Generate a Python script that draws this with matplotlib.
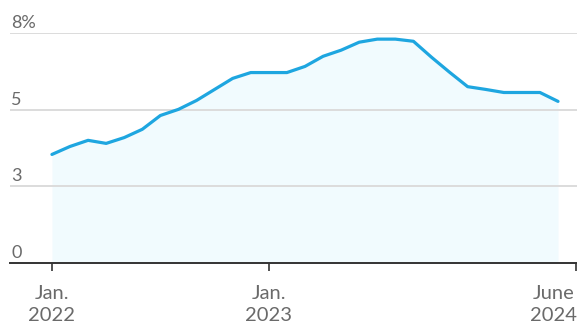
import matplotlib
matplotlib.use("Agg")
import matplotlib.pyplot as plt
import numpy as np

# Monthly values, Jan. 2022 .. May 2024 (percent)
months = list(range(29))
values = [3.54, 3.80, 4.00, 3.90, 4.09, 4.36, 4.81, 5.01, 5.30, 5.66,
          6.02, 6.21, 6.21, 6.21, 6.41, 6.74, 6.94, 7.20, 7.30, 7.30,
          7.23, 6.71, 6.22, 5.75, 5.66, 5.56, 5.56, 5.56, 5.27]

y_ticks = [0, 2.5, 5, 7.5]
y_labels = ["0", "3", "5", "8%"]
x_ticks = [0, 12, 29]
x_labels = ["Jan.\n2022", "Jan.\n2023", "June\n2024"]

plt.rcParams['font.family'] = ['Lato', 'DejaVu Sans']

fig = plt.figure(figsize=(5.77, 3.36), dpi=100)
ax = fig.add_axes([10/577, 1-263/336, 1-10/577, (263-33)/336])

ax.set_xlim(-2.32, 29.05)
ax.set_ylim(0, 7.5)

ax.fill_between(months, values, 0, color='#f1fbfe', lw=0, zorder=1)
for yv in y_ticks[1:]:
    ax.axhline(yv, color='#dcdcdc', lw=1.4, zorder=2)
ax.plot(months, values, color='#1ea6e0', lw=2.3, zorder=3,
        solid_joinstyle='round', solid_capstyle='round', clip_on=False)

for sp in ['top', 'right', 'left']:
    ax.spines[sp].set_visible(False)
ax.spines['bottom'].set_color('#333333')
ax.spines['bottom'].set_linewidth(1.4)
ax.set_yticks([])
ax.set_xticks(x_ticks)
ax.set_xticklabels([])
ax.tick_params(axis='x', length=6, width=1.2, color='#333333', direction='out')
for t in ax.xaxis.get_major_ticks():
    t.tick1line.set_clip_on(False)

for yv, lab in zip(y_ticks, y_labels):
    ax.annotate(lab, xy=(0, yv), xycoords=('axes fraction', 'data'),
                xytext=(1, 3.5), textcoords='offset points',
                ha='left', va='baseline', fontsize=13, color='#6a6a6a')

for xv, lab in zip(x_ticks, x_labels):
    ha = 'right' if xv == 29 else 'center'
    ax.annotate(lab, xy=(xv, 0), xycoords=('data', 'axes fraction'),
                xytext=(1 if ha == 'right' else 0, -16), textcoords='offset points',
                ha=ha, va='top', fontsize=14.5, color='#6a6a6a',
                multialignment='center', linespacing=1.35, annotation_clip=False)

fig.savefig("out.png", dpi=100)
